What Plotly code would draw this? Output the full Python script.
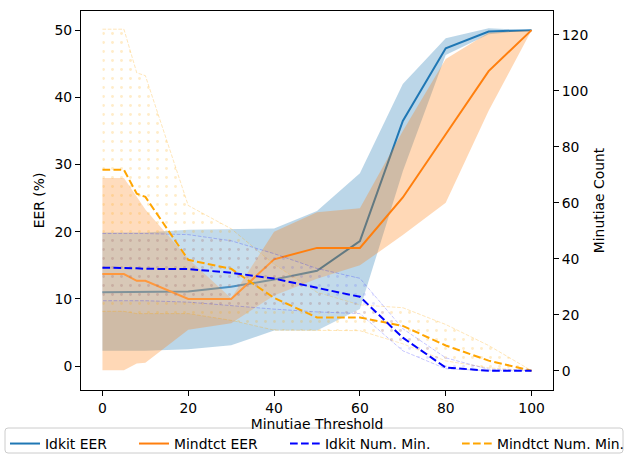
import plotly.graph_objects as go

# ---- data ----
thresholds = [0, 5, 8, 10, 20, 30, 40, 50, 60, 70, 80, 90, 100]

idkit_eer = [11.0, 11.0, 11.0, 11.0, 11.1, 11.8, 12.9, 14.2, 18.6, 36.5, 47.3, 49.8, 50.0]
idkit_eer_hi = [19.9, 19.9, 19.9, 19.9, 20.3, 20.4, 20.5, 23.1, 28.7, 42.0, 48.8, 50.3, 50.0]
idkit_eer_lo = [2.3, 2.3, 2.3, 2.3, 2.5, 3.1, 5.3, 5.3, 8.5, 29.0, 46.3, 49.4, 50.0]

mindtct_eer = [13.7, 13.7, 12.7, 12.7, 10.0, 10.0, 15.9, 17.6, 17.6, 25.1, 34.5, 43.9, 50.0]
mindtct_eer_hi = [28.0, 28.0, 25.2, 23.3, 16.0, 10.1, 20.0, 22.9, 23.5, 35.0, 45.7, 49.6, 50.0]
mindtct_eer_lo = [-0.6, -0.6, 0.4, 0.5, 5.4, 6.4, 10.5, 13.0, 15.0, 19.5, 24.3, 38.0, 50.0]

idkit_num = [36.8, 36.8, 36.6, 36.4, 36.3, 35.0, 32.9, 29.6, 26.4, 11.8, 1.1, 0.0, 0.0]
idkit_num_hi = [49.0, 49.0, 49.0, 49.0, 48.6, 46.4, 41.8, 36.5, 33.0, 15.0, 4.6, 0.5, 0.0]
idkit_num_lo = [25.0, 25.0, 25.0, 25.0, 24.5, 23.2, 22.0, 21.0, 20.4, 7.1, 0.7, 0.0, 0.0]

mindtct_num = [71.8, 71.8, 63.2, 62.1, 39.6, 36.4, 26.0, 19.0, 19.0, 16.0, 9.0, 3.6, 0.0]
mindtct_num_hi = [122.0, 122.0, 106.4, 105.4, 59.0, 50.7, 38.0, 28.0, 23.5, 22.5, 16.5, 9.0, 0.0]
mindtct_num_lo = [21.2, 21.2, 20.4, 20.4, 20.4, 18.0, 14.5, 14.3, 14.3, 9.6, 3.5, 1.0, 0.0]

x_ticks = [0, 20, 40, 60, 80, 100]
eer_ticks = [0, 10, 20, 30, 40, 50]
count_ticks = [0, 20, 40, 60, 80, 100, 120]

TAB_BLUE = "#1f77b4"
TAB_ORANGE = "#ff7f0e"
FONT = "DejaVu Sans"
FS = 13.9
DASH = "7.7px,3.3px"
EDGE_DASH = "3.7px,1.6px"

# plot-area geometry in pixels (figure 625x457)
L, R, T, B = 81, 553, 11, 390
PW, PH = R - L, B - T


def px_x(px):
    return (px - L) / PW


def px_y(py):
    return (B - py) / PH


fig = go.Figure()


def band(xs, lo, hi, fillcolor, yaxis="y", line=None, pattern=None):
    kw = dict(
        x=list(xs) + list(xs)[::-1],
        y=list(hi) + list(lo)[::-1],
        fill="toself",
        fillcolor=fillcolor,
        mode="lines",
        hoverinfo="skip",
        showlegend=False,
        yaxis=yaxis,
    )
    kw["line"] = line if line else dict(width=0)
    if pattern:
        kw["fillpattern"] = pattern
    return go.Scatter(**kw)


# EER bands and lines (left axis)
fig.add_trace(band(thresholds, idkit_eer_lo, idkit_eer_hi, "rgba(31,119,180,0.3)"))
fig.add_trace(go.Scatter(x=thresholds, y=idkit_eer, mode="lines", name="Idkit EER",
                         line=dict(color=TAB_BLUE, width=2), legend="legend"))
fig.add_trace(band(thresholds, mindtct_eer_lo, mindtct_eer_hi, "rgba(255,127,14,0.3)"))
fig.add_trace(go.Scatter(x=thresholds, y=mindtct_eer, mode="lines", name="Mindtct EER",
                         line=dict(color=TAB_ORANGE, width=2), legend="legend2"))

# Minutiae count bands and lines (right axis)
fig.add_trace(band(thresholds, mindtct_num_lo, mindtct_num_hi, "rgba(255,255,255,0.1)", yaxis="y2",
                   line=dict(color="rgba(255,165,0,0.28)", width=1, dash=EDGE_DASH),
                   pattern=dict(shape=".", fgcolor="rgba(255,165,0,0.42)", size=9, solidity=0.08)))
fig.add_trace(band(thresholds, idkit_num_lo, idkit_num_hi, "rgba(255,255,255,0.1)", yaxis="y2",
                   line=dict(color="rgba(0,0,255,0.22)", width=1, dash=EDGE_DASH),
                   pattern=dict(shape=".", fgcolor="rgba(0,0,255,0.22)", size=9, solidity=0.08)))
fig.add_trace(go.Scatter(x=thresholds, y=mindtct_num, mode="lines", name="Mindtct Num. Min.",
                         line=dict(color="orange", width=2, dash=DASH), yaxis="y2", legend="legend4"))
fig.add_trace(go.Scatter(x=thresholds, y=idkit_num, mode="lines", name="Idkit Num. Min.",
                         line=dict(color="blue", width=2, dash=DASH), yaxis="y2", legend="legend3"))

axis_common = dict(
    showline=True, linecolor="black", linewidth=1,
    ticks="outside", ticklen=5, tickwidth=1, tickcolor="black",
    showgrid=False, zeroline=False,
    tickfont=dict(family=FONT, size=FS, color="black"),
)


def leg(px_left):
    return dict(orientation="h", x=px_x(px_left), xanchor="left", y=px_y(428), yanchor="top",
                bgcolor="rgba(0,0,0,0)", borderwidth=0, itemwidth=30,
                font=dict(family=FONT, size=FS, color="black"))


# legend frame (rounded rectangle) in paper coordinates
x0, x1 = px_x(5), px_x(623)
y0, y1 = px_y(453), px_y(428)
rx, ry = 3 / PW, 3 / PH
frame_path = (
    f"M{x0 + rx},{y1} L{x1 - rx},{y1} Q{x1},{y1} {x1},{y1 - ry} "
    f"L{x1},{y0 + ry} Q{x1},{y0} {x1 - rx},{y0} "
    f"L{x0 + rx},{y0} Q{x0},{y0} {x0},{y0 + ry} "
    f"L{x0},{y1 - ry} Q{x0},{y1} {x0 + rx},{y1} Z"
)

fig.update_layout(
    width=625, height=457,
    margin=dict(l=L, r=625 - R, t=T, b=457 - B, autoexpand=False),
    plot_bgcolor="white", paper_bgcolor="white",
    font=dict(family=FONT, size=FS, color="black"),
    xaxis=dict(range=[-5, 105], tickvals=x_ticks, mirror=True,
               title=dict(text="Minutiae Threshold", font=dict(family=FONT, size=FS), standoff=3),
               **axis_common),
    yaxis=dict(range=[-3.55, 52.85], tickvals=eer_ticks,
               title=dict(text="EER (%)", font=dict(family=FONT, size=FS), standoff=6),
               **axis_common),
    yaxis2=dict(range=[-6.9, 128.5], tickvals=count_ticks, overlaying="y", side="right",
                title=dict(text="Minutiae Count", font=dict(family=FONT, size=FS), standoff=6),
                **axis_common),
    legend=leg(5),
    legend2=leg(134),
    legend3=leg(285),
    legend4=leg(457),
    shapes=[dict(type="path", xref="paper", yref="paper", path=frame_path,
                 line=dict(color="#cccccc", width=1), fillcolor="white", layer="below")],
    showlegend=True,
)

fig.write_html("out.html", post_script="document.body.style.margin='0';",
               config={"displayModeBar": False})
